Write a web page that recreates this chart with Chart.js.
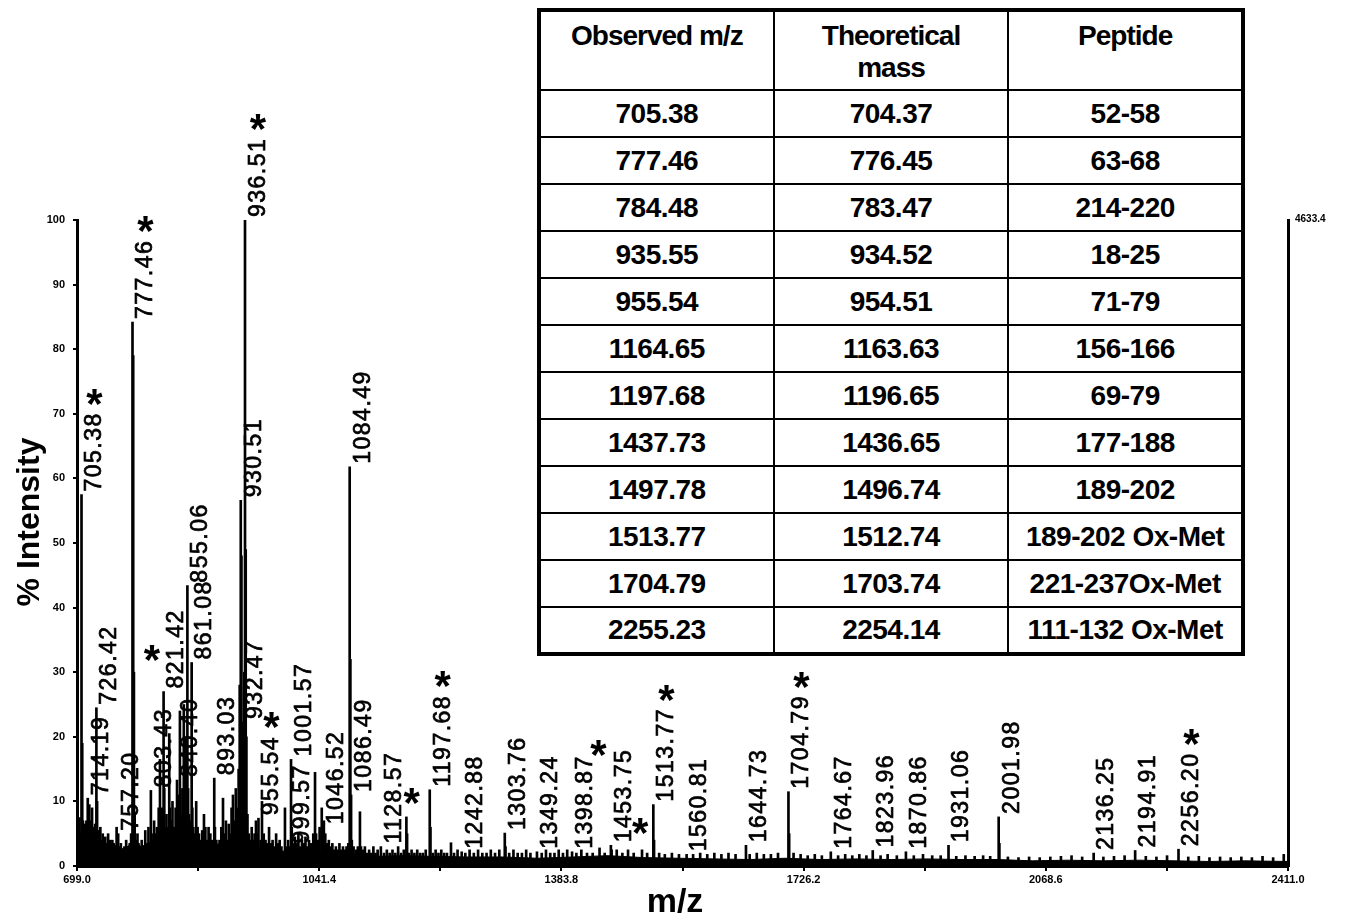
<!DOCTYPE html>
<html>
<head>
<meta charset="utf-8">
<script src="https://cdn.jsdelivr.net/npm/chart.js@4.4.0/dist/chart.umd.min.js"></script>
<style>
  html, body { margin: 0; padding: 0; background: #fff; }
  #wrap { position: relative; width: 1349px; height: 920px; }
  #c { display: block; }
  #tbl {
    position: absolute; left: 537px; top: 8px; width: 708px;
    border-collapse: collapse; table-layout: fixed;
    border: 4px solid #000; background: #fff;
    font-family: 'Liberation Sans', Arial, sans-serif; font-weight: bold; color: #000;
  }
  #tbl td, #tbl th {
    border: 2.5px solid #000; text-align: center; padding: 0;
    font-size: 28px; letter-spacing: -0.5px;
  }
  #tbl tr { height: 47px; }
  #tbl tr.head { height: 80px; }
  #tbl th { vertical-align: top; padding-top: 8px; line-height: 32px; letter-spacing: -1px; font-weight: bold; }
</style>
</head>
<body>
<div id="wrap">
  <canvas id="c" width="1349" height="920"></canvas>
  <table id="tbl"></table>
</div>
<script>
/* ========================================
   MALDI-TOF spectrum (Chart.js) + assignment table
   ======================================== */

/* Axis ticks */
var X_TICKS = [699.0, 1041.4, 1383.8, 1726.2, 2068.6, 2411.0];
var X_MINOR = [870.2, 1212.6, 1555.0, 1897.4, 2239.8];
var Y_TICKS = [0, 10, 20, 30, 40, 50, 60, 70, 80, 90, 100];
var MAX_COUNTS = '4633.4';

/* Peak list (m/z, % intensity) */
var PEAK_MZ = [
  699.6, 701.2, 702.5, 703.8, 705.38, 706.39, 707.40, 708.5, 709.8, 711.0, 712.3, 714.19, 715.2, 716.4, 717.6,
  719.0, 720.3, 721.5, 723.0, 724.6, 726.42, 727.43, 728.6, 730.2, 732.0, 733.5, 735.4, 737.0, 739.0, 741.2,
  743.0, 745.5, 747.3, 749.0, 751.0, 753.2, 755.0, 757.20, 759.0, 761.0, 763.5, 766.0, 768.5, 771.0, 773.5,
  775.5, 777.46, 778.47, 779.47, 780.5, 782.0, 784.48, 786.0, 788.0, 790.5, 793.0, 795.5, 797.5, 800.0, 803.43,
  804.5, 806.5, 808.0, 810.0, 812.0, 814.5, 816.3, 817.5, 819.5, 821.42, 822.4, 823.6, 825.5, 827.5, 829.4,
  830.5, 832.5, 834.0, 836.0, 838.4, 840.40, 841.5, 843.0, 844.5, 846.0, 848.0, 850.0, 852.0, 853.5, 855.06,
  856.1, 857.5, 859.0, 861.08, 862.1, 863.5, 865.5, 867.5, 869.5, 871.5, 874.0, 876.0, 878.5, 880.5, 883.0,
  885.0, 887.5, 890.0, 893.03, 894.0, 896.0, 900.5, 903.0, 905.4, 907.5, 909.5, 911.5, 913.5, 915.5, 917.5,
  919.5, 921.5, 923.5, 925.5, 927.5, 929.0, 930.51, 931.5, 932.47, 933.5, 935.55, 936.51, 937.52, 938.5, 940.0,
  942.0, 944.0, 946.0, 948.0, 950.0, 952.0, 953.5, 955.54, 958.5, 960.5, 963.0, 965.5, 968.0, 970.5, 973.0,
  975.5, 978.0, 980.5, 983.0, 985.5, 988.0, 993.0, 995.5, 997.5, 999.57, 1001.57, 1002.6, 1004.5, 1007.0, 1009.5,
  1012.0, 1014.5, 1017.0, 1019.5, 1022.0, 1024.5, 1027.0, 1030.0, 1033.0, 1035.5, 1037.0, 1039.5, 1042.0, 1045.0, 1046.52,
  1048.0, 1050.0, 1052.5, 1055.0, 1057.5, 1060.0, 1062.5, 1065.0, 1067.5, 1070.0, 1072.5, 1075.0, 1077.5, 1080.0, 1082.5,
  1084.49, 1085.49, 1086.49, 1087.5, 1090.0, 1093.0, 1096.0, 1099.0, 1100.5, 1103.0, 1106.0, 1109.0, 1112.0, 1115.0, 1118.0,
  1121.0, 1124.0, 1128.57, 1133.0, 1137.0, 1141.0, 1145.0, 1149.0, 1153.0, 1157.0, 1161.0, 1164.65, 1165.66, 1168.0, 1172.0,
  1176.0, 1180.0, 1184.0, 1188.0, 1192.0, 1197.68, 1198.69, 1202.0, 1206.0, 1210.0, 1214.0, 1218.0, 1222.0, 1227.7, 1232.0,
  1237.0, 1242.88, 1248.0, 1254.0, 1260.0, 1266.0, 1272.0, 1278.0, 1284.0, 1290.0, 1296.0, 1303.76, 1304.77, 1310.0, 1316.0,
  1322.0, 1328.0, 1334.0, 1340.0, 1349.24, 1356.0, 1362.0, 1368.0, 1374.0, 1380.0, 1386.0, 1392.0, 1398.87, 1405.0, 1412.0,
  1420.0, 1428.0, 1437.73, 1445.0, 1453.75, 1454.8, 1462.0, 1470.0, 1478.0, 1486.0, 1497.78, 1505.0, 1513.77, 1514.78, 1522.0,
  1530.0, 1540.0, 1550.0, 1560.81, 1570.0, 1580.0, 1590.0, 1600.0, 1610.0, 1620.0, 1630.0, 1644.73, 1650.0, 1660.0, 1670.0,
  1680.0, 1690.0, 1704.79, 1705.8, 1712.0, 1722.0, 1732.0, 1742.0, 1752.0, 1764.67, 1775.0, 1785.0, 1795.0, 1805.0, 1815.0,
  1823.96, 1835.0, 1845.0, 1858.0, 1870.86, 1882.0, 1895.0, 1908.0, 1920.0, 1931.06, 1942.0, 1955.0, 1968.0, 1980.0, 1990.0,
  2001.98, 2003.0, 2015.0, 2030.0, 2045.0, 2060.0, 2075.0, 2090.0, 2105.0, 2120.0, 2136.25, 2150.0, 2165.0, 2180.0, 2194.91,
  2210.0, 2225.0, 2240.0, 2256.20, 2270.0, 2285.0, 2300.0, 2315.0, 2330.0, 2345.0, 2360.0, 2375.0, 2390.0, 2405.0
];
var PEAK_INT = [
  8, 6, 7.5, 5, 57.5, 19, 7, 5, 6.5, 4.5, 7, 10.5, 8, 9.5, 5.5,
  7, 9, 6, 5, 6.5, 24.5, 10, 5.5, 4.5, 6, 4, 5, 3.5, 4.5, 3.5,
  5, 4, 3, 4, 3.5, 3, 6, 5, 3, 3.5, 2.5, 3, 4, 3, 3.5,
  5, 84.2, 79, 30, 8, 4, 5, 3.5, 3, 4, 3, 5.5, 3.5, 6, 11.7,
  5, 4, 7, 5, 6, 9, 16.5, 7, 9, 27, 12, 6, 8, 6, 20.5,
  9, 7, 10, 6, 9, 13.3, 9, 11, 24, 8, 12, 25, 9, 20, 43.4,
  12, 8, 7, 31.5, 9, 6, 5, 10, 6, 5, 4, 5.5, 8, 6, 4,
  6, 5, 4, 13.6, 6, 4, 4, 6, 10.5, 5, 7, 4, 6.5, 5, 9,
  11, 7, 12, 9, 15, 28, 56.6, 48, 22.3, 12, 30, 100, 49, 20, 8,
  5, 4, 6, 4, 5, 7, 5, 7.4, 4, 10, 5, 4, 3.5, 6, 3.5,
  4, 3, 5, 3.5, 4, 3, 9, 3, 4, 3, 16.5, 6, 3.5, 4.5, 3.5,
  5, 3, 4, 3.5, 4.5, 3, 4, 3.5, 5, 14.5, 5, 4, 6, 9, 6,
  7, 5, 3.5, 4, 3, 3.5, 2.5, 3, 2.5, 3.5, 2.5, 3, 2.5, 3, 3.5,
  61.8, 32, 11, 4, 3, 2.5, 3, 8.4, 3, 2.5, 3, 2, 2.5, 2, 3,
  2, 2.5, 3, 2, 2.5, 2, 2.5, 2, 3, 2, 2.5, 7.6, 5, 2, 2.5,
  2, 2.5, 2, 2, 2.5, 11.8, 6, 2, 2.5, 2, 2.5, 2, 2, 3.6, 2,
  2.5, 2.2, 2, 2.5, 2, 2.5, 2, 2, 2.5, 2, 2.5, 5.1, 3, 2, 2.5,
  2, 2, 2.5, 2, 2.2, 2, 2.5, 2, 2, 2.5, 2, 2.5, 2.2, 2, 2.5,
  2, 2, 2.8, 2, 3.2, 2.5, 2.5, 2, 2.5, 2, 2.5, 2, 9.5, 4, 2,
  1.8, 2, 1.8, 1.8, 1.8, 2, 1.8, 2, 1.8, 2, 1.8, 3.2, 1.8, 2, 1.8,
  1.8, 2, 11.5, 5, 2, 1.8, 1.6, 1.8, 1.6, 2.2, 1.6, 1.8, 1.6, 1.8, 1.6,
  2.4, 1.6, 1.8, 1.6, 2.2, 1.6, 1.8, 1.6, 1.6, 3.2, 1.5, 1.6, 1.5, 1.6, 1.5,
  7.6, 3.5, 1.4, 1.3, 1.4, 1.3, 1.4, 1.5, 1.6, 1.4, 2, 1.4, 1.5, 1.6, 2.4,
  1.5, 1.4, 1.6, 2.6, 1.4, 1.5, 1.3, 1.4, 1.3, 1.4, 1.3, 1.5, 1.3, 1.8
];

/* Chemical-noise floor under the peaks */
var BASE_MZ = [699, 710, 720, 730, 740, 750, 760, 770, 780, 790, 800, 810, 820, 830, 840, 850, 860, 870, 880, 890,
  900, 910, 920, 930, 940, 950, 960, 970, 980, 990, 1000, 1010, 1020, 1030, 1040, 1050, 1060, 1080, 1100, 1130,
  1160, 1200, 1250, 1300, 1350, 1400, 1450, 1500, 1550, 1600, 1650, 1700, 1750, 1800, 1850, 1900, 1950, 2000, 2050,
  2100, 2150, 2200, 2250, 2300, 2350, 2411];
var BASE_INT = [4, 4.5, 4, 3.5, 3, 3.5, 2.5, 3, 3.5, 3, 3.5, 4, 4.5, 4, 5, 5.5, 4.5, 3.5, 3, 3,
  3.5, 3.5, 5, 6, 3.5, 3, 2.8, 2.5, 2.5, 2.3, 2.5, 2, 2.3, 2, 2.5, 2, 1.8, 1.8, 1.6, 1.5,
  1.6, 1.5, 1.4, 1.4, 1.2, 1.4, 1.6, 1.3, 1.2, 1.1, 1.0, 1.2, 1.0, 1.1, 1.0, 1.1, 1.0, 1.0, 0.8,
  0.9, 0.8, 0.9, 0.8, 0.7, 0.8, 0.7];

/* Peak annotations */
var LABELS = ['705.38', '714.19', '726.42', '757.20', '777.46', '803.43', '821.42', '840.40', '855.06', '861.08',
  '893.03', '930.51', '932.47', '936.51', '955.54', '999.57', '1001.57', '1046.52', '1084.49', '1086.49',
  '1128.57', '1197.68', '1242.88', '1303.76', '1349.24', '1398.87', '1453.75', '1513.77', '1560.81', '1644.73',
  '1704.79', '1764.67', '1823.96', '1870.86', '1931.06', '2001.98', '2136.25', '2194.91', '2256.20'];
var STARRED = ['705.38', '777.46', '936.51', '955.54', '1197.68', '1513.77', '1704.79', '2256.20'];
var STAR_MZ = [805, 1172, 1436, 1495];
var STAR_INT = [33, 11, 18.3, 6.3];

/* Assignment table */
var OBSERVED = ['705.38', '777.46', '784.48', '935.55', '955.54', '1164.65', '1197.68', '1437.73', '1497.78', '1513.77', '1704.79', '2255.23'];
var THEORETICAL = ['704.37', '776.45', '783.47', '934.52', '954.51', '1163.63', '1196.65', '1436.65', '1496.74', '1512.74', '1703.74', '2254.14'];
var PEPTIDE = ['52-58', '63-68', '214-220', '18-25', '71-79', '156-166', '69-79', '177-188', '189-202', '189-202 Ox-Met', '221-237Ox-Met', '111-132 Ox-Met'];

var FONT = "'Liberation Sans', Arial, sans-serif";

function buildTable() {
  var html = '<colgroup><col><col><col></colgroup>' +
    '<tr class="head"><th>Observed m/z</th><th>Theoretical<br>mass</th><th>Peptide</th></tr>';
  OBSERVED.forEach(function(o, i) {
    html += '<tr><td>' + o + '</td><td>' + THEORETICAL[i] + '</td><td>' + PEPTIDE[i] + '</td></tr>';
  });
  document.getElementById('tbl').innerHTML = html;
}

function peakHeight(mz) {
  var i = PEAK_MZ.indexOf(mz);
  return i >= 0 ? PEAK_INT[i] : 0;
}

/* Rotated peak labels, asterisks and axis titles */
var annotPlugin = {
  id: 'annot',
  afterDraw: function(chart) {
    var ctx = chart.ctx;
    var xs = chart.scales.x, ys = chart.scales.y;
    var area = chart.chartArea;

    ctx.save();
    ctx.fillStyle = '#000';
    ctx.strokeStyle = '#000';
    ctx.lineWidth = 0.7;
    ctx.font = '23px ' + FONT;
    ctx.letterSpacing = '1.5px';
    ctx.textAlign = 'left';
    ctx.textBaseline = 'top';

    LABELS.forEach(function(txt) {
      var mz = parseFloat(txt);
      var px = xs.getPixelForValue(mz);
      var py = ys.getPixelForValue(peakHeight(mz));
      var w = ctx.measureText(txt).width;
      ctx.save();
      ctx.translate(px + 2, py - 3);
      ctx.rotate(-Math.PI / 2);
      ctx.fillText(txt, 0, 0);
      ctx.strokeText(txt, 0, 0);
      ctx.restore();
      if (STARRED.indexOf(txt) >= 0) {
        drawStar(ctx, px + 13, py - 3 - w - 16);
      }
    });

    STAR_MZ.forEach(function(mz, i) {
      drawStar(ctx, xs.getPixelForValue(mz), ys.getPixelForValue(STAR_INT[i]));
    });

    ctx.letterSpacing = '0px';

    /* right-hand intensity counter */
    ctx.font = 'bold 10px ' + FONT;
    ctx.textBaseline = 'middle';
    ctx.fillText(MAX_COUNTS, area.right + 7, area.top - 1);

    /* axis titles */
    ctx.textAlign = 'center';
    ctx.font = 'bold 32px ' + FONT;
    ctx.save();
    ctx.translate(30, 522);
    ctx.rotate(-Math.PI / 2);
    ctx.fillText('% Intensity', 0, 0);
    ctx.restore();

    ctx.font = 'bold 34px ' + FONT;
    ctx.fillText('m/z', 675, 903);
    ctx.restore();
  }
};

function drawStar(ctx, x, y) {
  ctx.save();
  ctx.font = 'bold 42px ' + FONT;
  ctx.letterSpacing = '0px';
  ctx.textAlign = 'center';
  ctx.textBaseline = 'middle';
  ctx.fillText('*', x, y + 10);
  ctx.restore();
}

function initChart() {
  buildTable();

  var peaks = PEAK_MZ.map(function(m, i) { return { x: m, y: PEAK_INT[i] }; });
  var base = BASE_MZ.map(function(m, i) { return { x: m, y: BASE_INT[i] }; });
  var tickFont = { family: FONT, size: 11, weight: 'bold' };

  new Chart(document.getElementById('c'), {
    type: 'bar',
    data: {
      datasets: [
        { type: 'bar', data: peaks, backgroundColor: '#000', barThickness: 2, order: 0 },
        { type: 'line', data: base, fill: 'origin', backgroundColor: '#000', borderColor: '#000',
          borderWidth: 1, pointRadius: 0, tension: 0, order: 1 }
      ]
    },
    options: {
      responsive: false,
      animation: false,
      layout: { padding: { top: 220 } },
      plugins: { legend: { display: false }, tooltip: { enabled: false } },
      scales: {
        x: {
          type: 'linear', offset: false, min: X_TICKS[0], max: X_TICKS[X_TICKS.length - 1],
          grid: { offset: false, drawOnChartArea: false, tickLength: 5, color: '#000', lineWidth: 2 },
          border: { color: '#000', width: 3 },
          ticks: {
            color: '#000', font: tickFont, padding: 2, maxRotation: 0, autoSkip: false,
            callback: function(v) { return X_TICKS.indexOf(v) >= 0 ? v.toFixed(1) : ''; }
          },
          afterBuildTicks: function(s) {
            s.ticks = X_TICKS.concat(X_MINOR).sort(function(a, b) { return a - b; })
              .map(function(v) { return { value: v }; });
          },
          afterFit: function(s) { s.height = 54; }
        },
        y: {
          min: 0, max: 100,
          grid: { drawOnChartArea: false, tickLength: 4, color: '#000', lineWidth: 2 },
          border: { color: '#000', width: 3 },
          ticks: { color: '#000', font: tickFont, padding: 8 },
          afterBuildTicks: function(s) {
            s.ticks = Y_TICKS.map(function(v) { return { value: v }; });
          },
          afterFit: function(s) { s.width = 77; }
        },
        y2: {
          position: 'right', min: 0, max: 100,
          grid: { display: false },
          border: { color: '#000', width: 3 },
          ticks: { display: false },
          afterFit: function(s) { s.width = 61; }
        }
      }
    },
    plugins: [annotPlugin]
  });
}

document.addEventListener('DOMContentLoaded', initChart);
</script>
</body>
</html>
